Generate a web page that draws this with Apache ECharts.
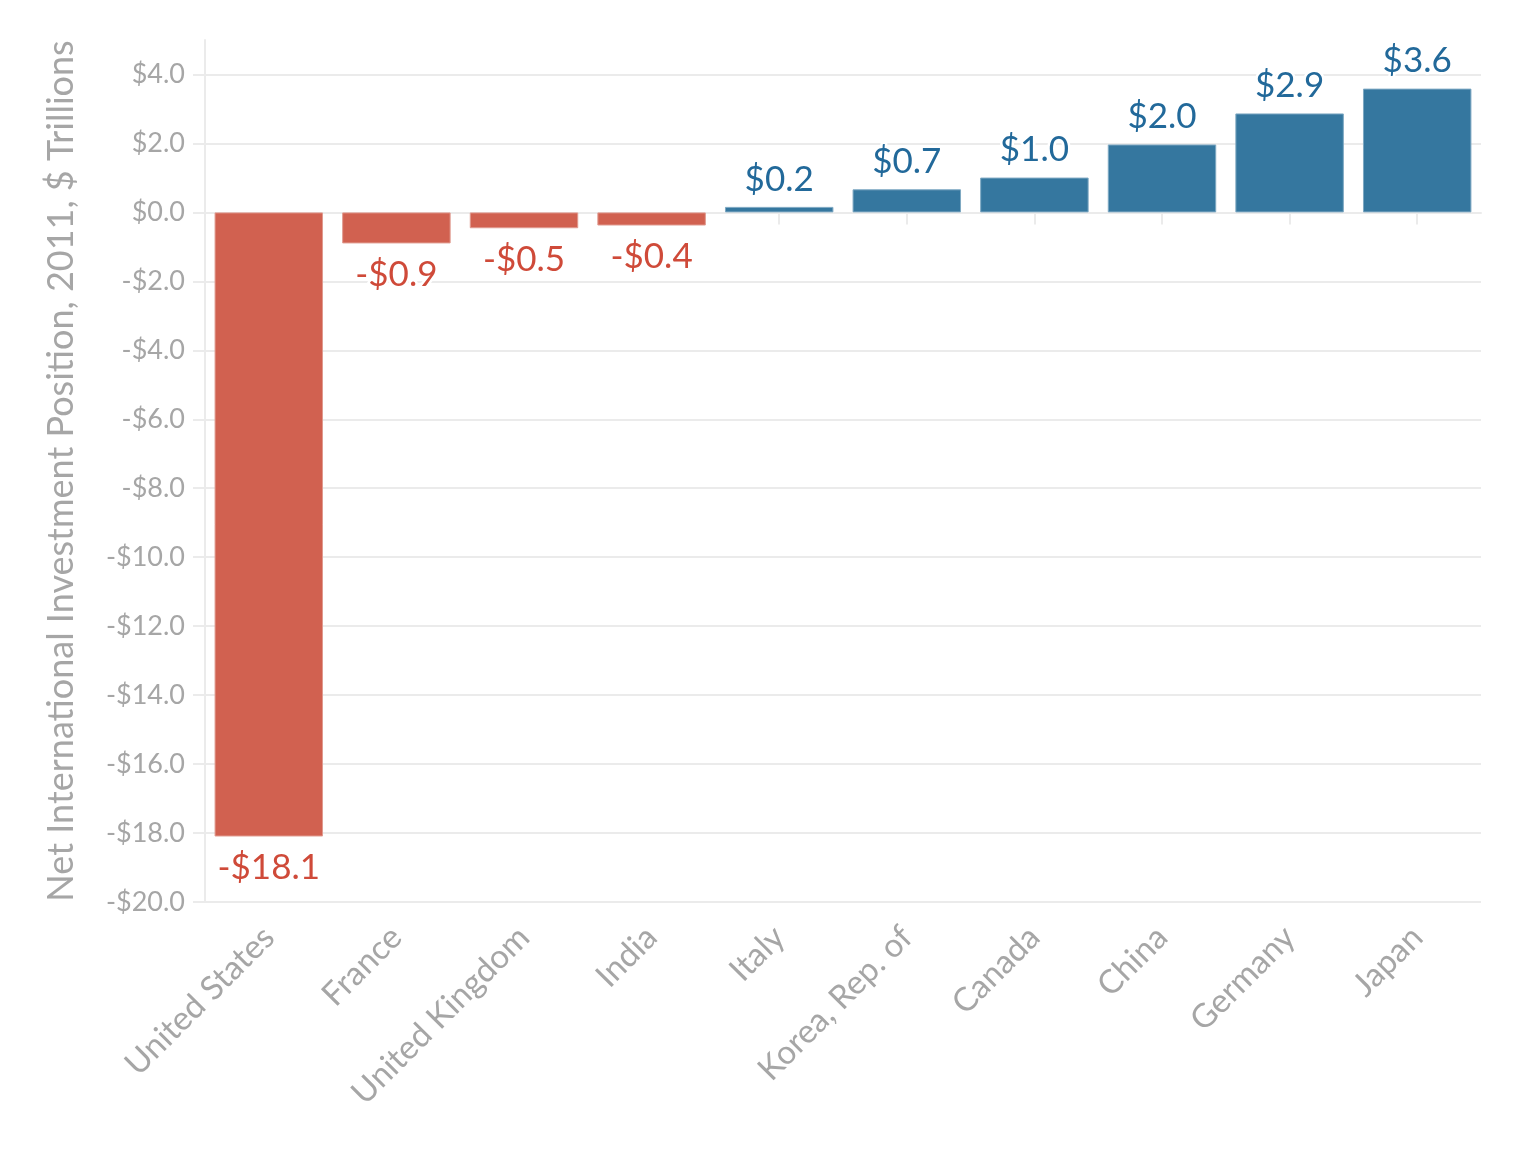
<!DOCTYPE html>
<html>
<head>
<meta charset="utf-8">
<script src="https://cdn.jsdelivr.net/npm/echarts@6/dist/echarts.min.js"></script>
<style>html,body{margin:0;padding:0;background:#fff}#c{width:1528px;height:1150px}</style>
</head>
<body>
<div id="c"></div>
<script>
const categories = ['United States','France','United Kingdom','India','Italy','Korea, Rep. of','Canada','China','Germany','Japan'];
const values = [-18.1, -0.9, -0.46, -0.38, 0.16, 0.67, 1.01, 1.97, 2.87, 3.59];
const yTicks = [-20,-18,-16,-14,-12,-10,-8,-6,-4,-2,0,2,4];
const yName = 'Net International Investment Position, 2011, $ Trillions';

const NEG = '#D16150', NEG_TXT = '#CF4A39';
const POS = '#35779F', POS_TXT = '#22699A';
const fmt = v => (v < 0 ? '-$' : '$') + Math.abs(v).toFixed(1);

const chart = echarts.init(document.getElementById('c'));
chart.setOption({
  animation: false,
  grid: {left: 205, right: 47, top: 40, bottom: 248},
  xAxis: {
    type: 'category', data: categories,
    axisLine: {show: true, lineStyle: {color: '#ebebeb', width: 2}},
    axisTick: {show: true, alignWithLabel: true, length: 12, lineStyle: {color: '#ebebeb', width: 2}},
    axisLabel: {rotate: 45, color: '#a6a6a6', fontFamily: 'Lato', fontSize: 33, margin: 30}
  },
  yAxis: {
    type: 'value', min: -20, max: 5,
    name: yName, nameLocation: 'middle', nameGap: 126,
    nameTextStyle: {color: '#a6a6a6', fontFamily: 'Lato', fontSize: 36},
    axisLine: {show: true, lineStyle: {color: '#ebebeb', width: 2}},
    axisTick: {show: true, length: 12, customValues: yTicks, lineStyle: {color: '#ebebeb', width: 2}},
    axisLabel: {customValues: yTicks, color: '#a6a6a6', fontFamily: 'Lato', fontSize: 27, margin: 20, formatter: v => fmt(v)},
    splitLine: {show: true, lineStyle: {color: '#ebebeb', width: 2}}
  },
  series: [{
    type: 'bar', barWidth: '85%',
    data: values.map(v => ({
      value: v,
      itemStyle: {color: v < 0 ? NEG : POS, borderColor: v < 0 ? '#e09a8f' : '#7fa9c3', borderWidth: 1},
      label: {show: true, position: v < 0 ? 'bottom' : 'top', distance: v < 0 ? 14 : 10,
        color: v < 0 ? NEG_TXT : POS_TXT, fontFamily: 'Lato', fontSize: 35,
        textBorderColor: '#fff', textBorderWidth: 5, formatter: p => fmt(p.value)}
    }))
  }]
});
</script>
</body>
</html>
